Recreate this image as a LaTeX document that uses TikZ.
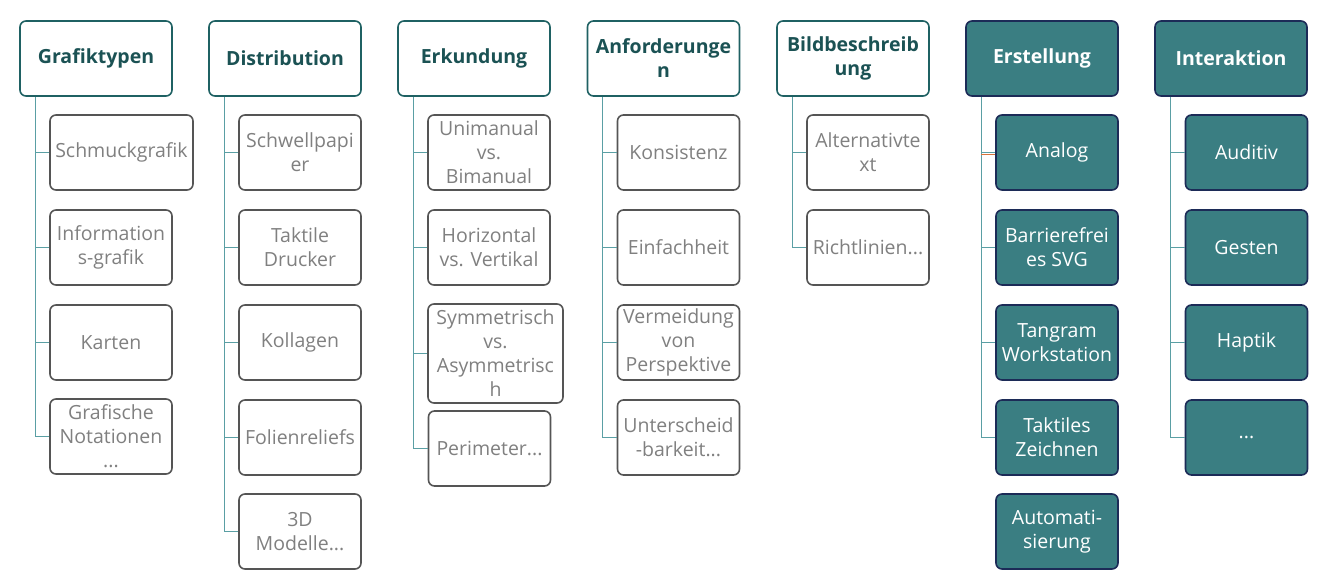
\documentclass[tikz,border=0pt]{standalone}
\usepackage{fontspec}
\setmainfont{Open Sans}
\definecolor{hdrtext}{HTML}{1B5254}
\definecolor{hdrline}{HTML}{1F6163}
\definecolor{tealfill}{HTML}{3A7E82}
\definecolor{navyline}{HTML}{1C2B57}
\definecolor{kidline}{HTML}{555555}
\definecolor{kidtext}{HTML}{808080}
\definecolor{connline}{HTML}{5A9FA4}
\definecolor{selorange}{HTML}{D9733A}
\begin{document}
\begin{tikzpicture}[x=1pt,y=-1pt,
  base/.style={rounded corners=6pt, line width=1.6pt, align=center, inner sep=1pt,
    font=\fontsize{19.5}{24}\selectfont},
  hdr/.style={base, draw=hdrline, fill=white, text=hdrtext, font=\fontsize{19.5}{24}\selectfont\bfseries,
    minimum width=152pt, minimum height=75pt},
  hdrf/.style={base, draw=navyline, fill=tealfill, text=white, font=\fontsize{19.5}{24}\selectfont\bfseries,
    minimum width=152pt, minimum height=75pt},
  kid/.style={base, draw=kidline, fill=white, text=kidtext, minimum width=122pt, minimum height=75pt},
  kidf/.style={base, draw=navyline, fill=tealfill, text=white, minimum width=122pt, minimum height=75pt},
  conn/.style={draw=connline, line width=1.1pt}]
\useasboundingbox (0,0) rectangle (1320,586);

% headers
\node[hdr]  (h1) at (96,58.5)    {Grafiktypen};
\node[hdr]  (h2) at (285,58.5)   {Distribution};
\node[hdr]  (h3) at (474,58.5)   {Erkundung};
\node[hdr]  (h4) at (663.5,58.5) {Anforderunge\\n};
\node[hdr]  (h5) at (853,58.5)   {Bildbeschreib\\ung};
\node[hdrf] (h6) at (1042,58.5)  {Erstellung};
\node[hdrf] (h7) at (1231,58.5)  {Interaktion};

% column 1
\node[kid, minimum width=143pt] (a1) at (121.5,152.5) {Schmuckgrafik};
\node[kid] (a2) at (111,247.5) {Information\\s-grafik};
\node[kid] (a3) at (111,342.5) {Karten};
\node[kid] (a4) at (111,436.5) {Grafische\\Notationen\\...};

% column 2
\node[kid] (b1) at (300,152.5) {Schwellpapi\\er};
\node[kid] (b2) at (300,247.5) {Taktile\\Drucker};
\node[kid] (b3) at (300,342.5) {Kollagen};
\node[kid] (b4) at (300,437.5) {Folienreliefs};
\node[kid] (b5) at (300,531.5) {3D\\Modelle...};

% column 3
\node[kid] (c1) at (489,152.5) {Unimanual\\vs.\\Bimanual};
\node[kid] (c2) at (489,247.5) {Horizontal\\vs. Vertikal};
\node[kid, minimum width=135pt, minimum height=99pt] (c3) at (495.5,353.5) {Symmetrisch\\vs.\\Asymmetrisc\\h};
\node[kid] (c4) at (489.5,448.5) {Perimeter...};

% column 4
\node[kid] (d1) at (678.5,152.5) {Konsistenz};
\node[kid] (d2) at (678.5,247.5) {Einfachheit};
\node[kid] (d3) at (678.5,342.5) {Vermeidung\\von\\Perspektive};
\node[kid] (d4) at (678.5,437.5) {Unterscheid\\-barkeit...};

% column 5
\node[kid] (e1) at (868,152.5) {Alternativte\\xt};
\node[kid] (e2) at (868,247.5) {Richtlinien...};

% column 6
\node[kidf] (f1) at (1057,152.5) {Analog};
\node[kidf] (f2) at (1057,247.5) {Barrierefrei\\es SVG};
\node[kidf] (f3) at (1057,342.5) {Tangram\\Workstation};
\node[kidf] (f4) at (1057,437.5) {Taktiles\\Zeichnen};
\node[kidf] (f5) at (1057,531.5) {Automati-\\sierung};

% column 7
\node[kidf] (g1) at (1246.5,152.5) {Auditiv};
\node[kidf] (g2) at (1246.5,247.5) {Gesten};
\node[kidf] (g3) at (1246.5,342.5) {Haptik};
\node[kidf] (g4) at (1246.5,437.5) {...};

% connectors
\foreach \h/\kids in {h1/{a1,a2,a3,a4}, h2/{b1,b2,b3,b4,b5}, h3/{c1,c2,c3,c4},
                      h4/{d1,d2,d3,d4}, h5/{e1,e2}, h6/{f1,f2,f3,f4}, h7/{g1,g2,g3,g4}}{
  \foreach \k in \kids {
    \draw[conn] ([xshift=16pt]\h.south west) |- (\k.west);
  }
}
\draw[selorange, line width=1pt] ([yshift=-2pt]f1.west) -- ++(-14,0) coordinate (selend);
\end{tikzpicture}
\end{document}
